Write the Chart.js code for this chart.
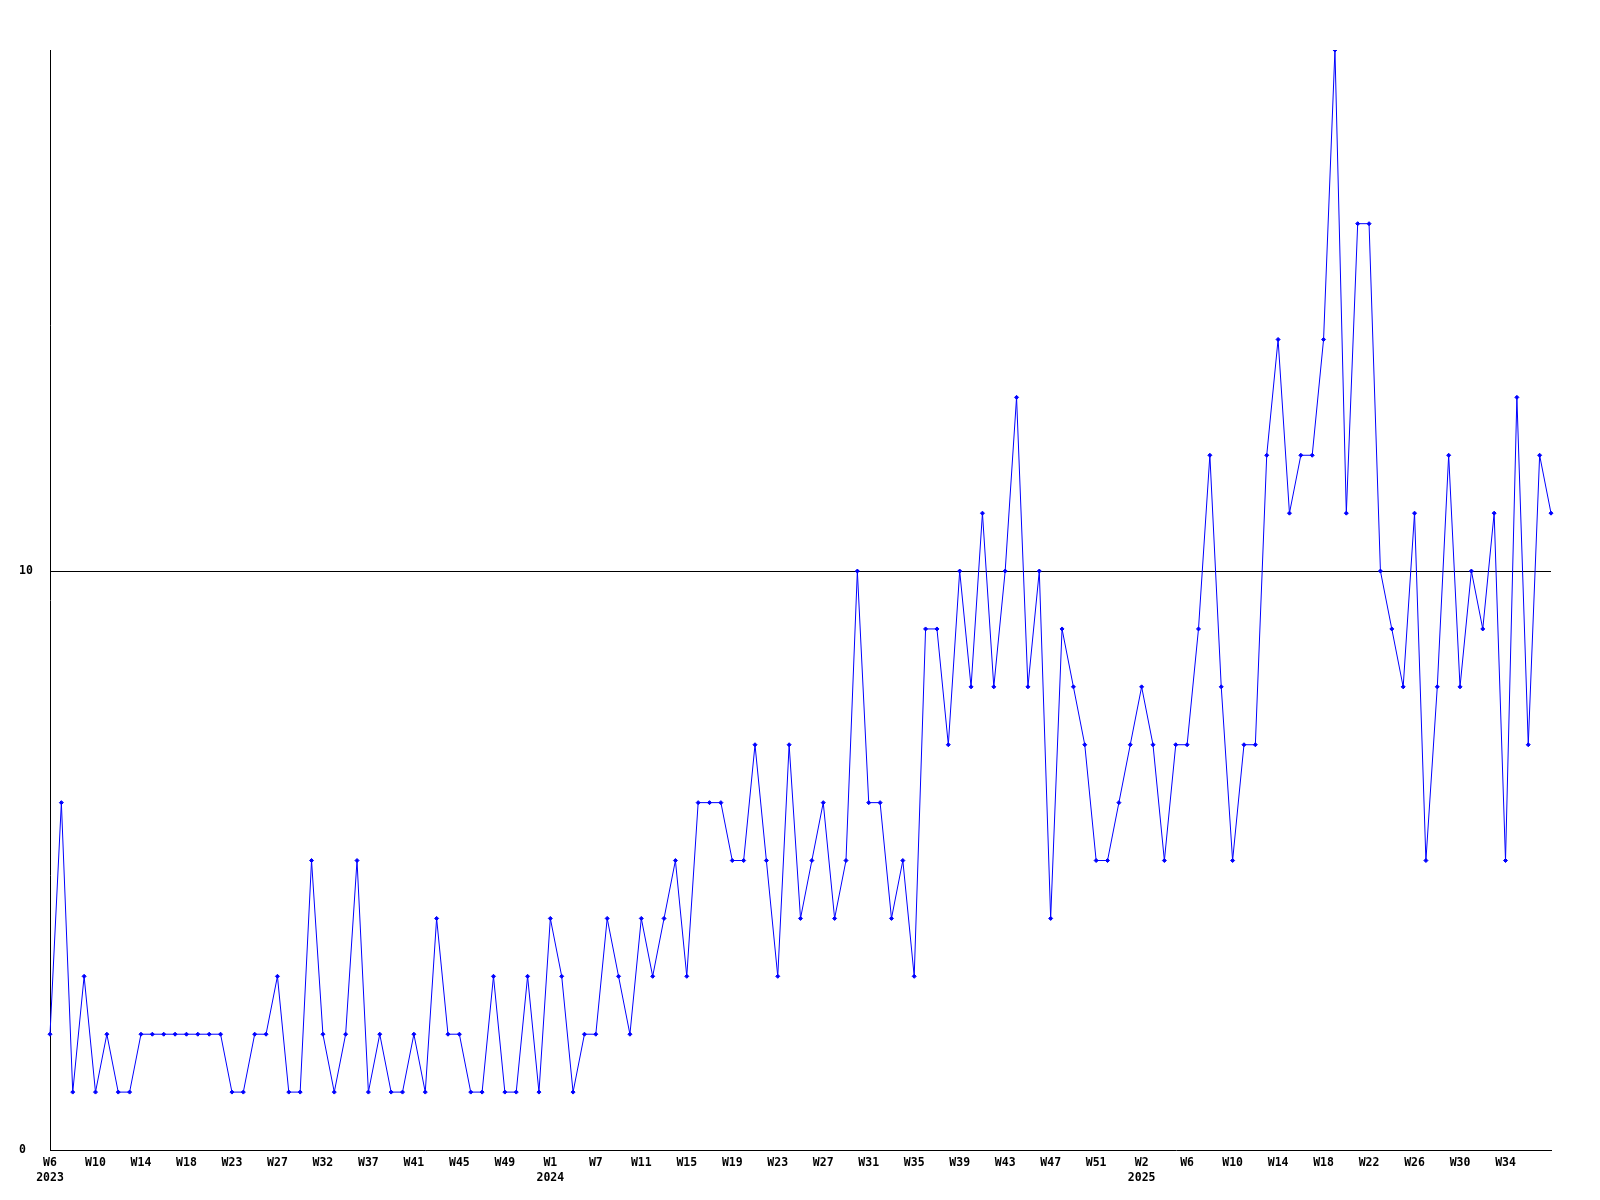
<!DOCTYPE html>
<html>
<head>
<meta charset="utf-8">
<script src="https://cdn.jsdelivr.net/npm/chart.js@4"></script>
<style>
  html, body { margin: 0; padding: 0; background: #ffffff; }
  #wrap { width: 1600px; height: 1200px; }
</style>
</head>
<body>
<div id="wrap"><canvas id="c" width="1600" height="1200"></canvas></div>
<script>
// Weekly values, one per point (133 points, 2023 W6 .. 2025 W36)
const values = [
  2, 6, 1, 3, 1, 2, 1, 1, 2, 2, 2, 2, 2, 2, 2, 2,
  1, 1, 2, 2, 3, 1, 1, 5, 2, 1, 2, 5, 1, 2, 1, 1,
  2, 1, 4, 2, 2, 1, 1, 3, 1, 1, 3, 1, 4, 3, 1, 2,
  2, 4, 3, 2, 4, 3, 4, 5, 3, 6, 6, 6, 5, 5, 7, 5,
  3, 7, 4, 5, 6, 4, 5, 10, 6, 6, 4, 5, 3, 9, 9, 7,
  10, 8, 11, 8, 10, 13, 8, 10, 4, 9, 8, 7, 5, 5, 6, 7,
  8, 7, 5, 7, 7, 9, 12, 8, 5, 7, 7, 12, 14, 11, 12, 12,
  14, 19, 11, 16, 16, 10, 9, 8, 11, 5, 8, 12, 8, 10, 9, 11,
  5, 13, 7, 12, 11
];
// Tick labels shown every 4th point
const tickLabels = [
  'W6', 'W10', 'W14', 'W18', 'W23', 'W27', 'W32', 'W37', 'W41', 'W45', 'W49',
  'W1', 'W7', 'W11', 'W15', 'W19', 'W23', 'W27', 'W31', 'W35', 'W39', 'W43', 'W47', 'W51',
  'W2', 'W6', 'W10', 'W14', 'W18', 'W22', 'W26', 'W30', 'W34'
];
// Year under the first tick label of each year
const yearLabels = { 'W6#0': '2023', 'W1#11': '2024', 'W2#24': '2025' };
const yTicks = [0, 10];
const yMax = 19;
const tickEvery = 4;

const categories = values.map((v, i) => {
  if (i % tickEvery !== 0) return '';
  const k = i / tickEvery;
  const lab = tickLabels[k];
  if (lab === undefined) return '';
  const yr = yearLabels[lab + '#' + k];
  return yr ? [lab, yr] : lab;
});

const FONT = '"DejaVu Sans Mono", "Liberation Mono", monospace';

new Chart(document.getElementById('c'), {
  type: 'line',
  data: {
    labels: categories,
    datasets: [{
      data: values,
      borderColor: '#0000ff',
      backgroundColor: '#0000ff',
      borderWidth: 1,
      tension: 0,
      pointStyle: 'rectRot',
      pointRadius: 2,
      pointBorderWidth: 1,
      pointBackgroundColor: '#0000ff',
      pointBorderColor: '#0000ff',
      fill: false
    }]
  },
  options: {
    responsive: false,
    animation: false,
    devicePixelRatio: 1,
    layout: { padding: { left: 19, right: 49, top: 50, bottom: 0 } },
    plugins: { legend: { display: false }, tooltip: { enabled: false } },
    scales: {
      x: {
        type: 'category',
        offset: false,
        grid: { display: false, drawTicks: false },
        border: { display: true, color: '#000000', width: 1 },
        ticks: {
          autoSkip: false,
          maxRotation: 0,
          minRotation: 0,
          padding: 6,
          color: '#000000',
          font: { family: FONT, size: 11.5, weight: 'bold', lineHeight: 1.3 }
        },
        afterFit: (s) => { s.height = 50; }
      },
      y: {
        min: 0,
        max: yMax,
        afterBuildTicks: (s) => { s.ticks = yTicks.map(v => ({ value: v })); },
        grid: {
          drawTicks: false,
          color: (ctx) => (ctx.tick && ctx.tick.value === 10 ? '#000000' : 'rgba(0,0,0,0)'),
          lineWidth: 1
        },
        border: { display: true, color: '#000000', width: 1 },
        ticks: {
          crossAlign: 'far',
          padding: 0,
          color: '#000000',
          font: { family: FONT, size: 11.5, weight: 'bold' }
        },
        afterFit: (s) => { s.width = 31; }
      }
    }
  }
});
</script>
</body>
</html>
